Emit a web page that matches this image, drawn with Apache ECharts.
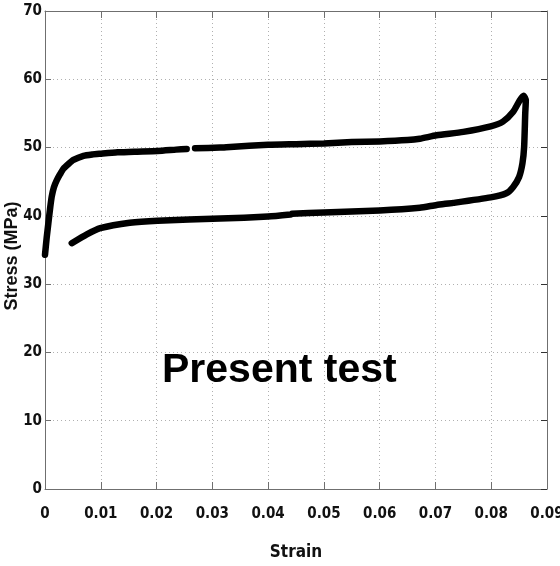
<!DOCTYPE html>
<html>
<head>
<meta charset="utf-8">
<script src="https://cdn.jsdelivr.net/npm/echarts@6/dist/echarts.min.js"></script>
<style>
  html, body { margin: 0; padding: 0; background: #fff; }
  #chart { width: 560px; height: 566px; }
</style>
</head>
<body>
<div id="chart"></div>
<script>
// Cyclic stress-strain record: loading branch, then unloading branch.
// null marks a short break in the recorded trace.
const loadStrain = [0, 0.0003, 0.0006, 0.0009, 0.0012, 0.0016, 0.0021, 0.0027, 0.0033, 0.0042, 0.0051,
  0.0069, 0.0085, 0.0099, 0.013, 0.016, 0.0202, 0.0235, 0.0254, 0.026, 0.0269, 0.0314, 0.0332, 0.04,
  0.045, 0.05, 0.055, 0.06, 0.065, 0.0672, 0.0702, 0.075, 0.0799, 0.0821, 0.0839, 0.0851, 0.0858];
const loadStress = [34.3, 36.8, 38.9, 41.0, 42.8, 44.2, 45.2, 46.1, 46.9, 47.6, 48.2,
  48.8, 49.0, 49.1, 49.3, 49.4, 49.5, 49.7, 49.8, null, 49.9, 50.0, 50.1, 50.4,
  50.5, 50.6, 50.8, 50.9, 51.1, 51.3, 51.8, 52.3, 53.1, 53.8, 55.2, 56.9, 57.6];

const unloadStrain = [0.0862, 0.0861, 0.0859, 0.0856, 0.085, 0.0839, 0.0827, 0.0799, 0.0732, 0.0702,
  0.0672, 0.06, 0.05, 0.0443, 0.0442, 0.044, 0.04, 0.0314, 0.0202, 0.0152, 0.0099, 0.0075, 0.0048];
const unloadStress = [56.9, 55.0, 50.1, 47.7, 45.7, 44.2, 43.3, 42.7, 41.9, 41.6,
  41.2, 40.8, 40.5, 40.3, null, 40.2, 39.9, 39.6, 39.3, 39.0, 38.2, 37.3, 36.0];

const xTicks = { min: 0, max: 0.09, step: 0.01 };
const yTicks = { min: 0, max: 70, step: 10 };
const xTitle = 'Strain';
const yTitle = 'Stress (MPa)';
const caption = 'Present test';

const loop = [];
loadStrain.forEach((s, i) => loop.push([s, loadStress[i]]));
unloadStrain.forEach((s, i) => loop.push([s, unloadStress[i]]));

const axisGray = '#6f6f6f';
const narrow = '"DejaVu Sans Condensed", "Liberation Sans Narrow", "Noto Sans", sans-serif';
const tickFont = { color: '#111', fontFamily: narrow, fontWeight: 'bold', fontSize: 15 };
const gridDots = { show: true, lineStyle: { color: '#b0b0b0', type: [1, 3], width: 1 } };

const chart = echarts.init(document.getElementById('chart'), null, { renderer: 'canvas' });
chart.setOption({
  animation: false,
  backgroundColor: '#fff',
  grid: { left: 45, top: 11, right: 13, bottom: 77, containLabel: false, outerBoundsMode: 'none' },
  xAxis: [{
    type: 'value', min: xTicks.min, max: xTicks.max, interval: xTicks.step,
    position: 'bottom',
    axisLine: { show: true, onZero: false, lineStyle: { color: axisGray, width: 1 } },
    axisTick: { show: true, inside: true, length: 7, lineStyle: { color: axisGray } },
    axisLabel: Object.assign({ margin: 18, formatter: v => v === 0 ? '0' : v.toFixed(2) }, tickFont),
    splitLine: gridDots,
    name: xTitle, nameLocation: 'middle', nameGap: 55,
    nameTextStyle: Object.assign({}, tickFont, { fontSize: 17 })
  }, {
    type: 'value', min: xTicks.min, max: xTicks.max, interval: xTicks.step,
    position: 'top',
    axisLine: { show: true, onZero: false, lineStyle: { color: axisGray, width: 1 } },
    axisTick: { show: true, inside: true, length: 7, lineStyle: { color: axisGray } },
    axisLabel: { show: false },
    splitLine: { show: false }
  }],
  yAxis: [{
    type: 'value', min: yTicks.min, max: yTicks.max, interval: yTicks.step,
    position: 'left',
    axisLine: { show: true, onZero: false, lineStyle: { color: axisGray, width: 1 } },
    axisTick: { show: true, inside: true, length: 6, lineStyle: { color: axisGray } },
    axisLabel: Object.assign({ margin: 3 }, tickFont),
    splitLine: gridDots
  }, {
    type: 'value', min: yTicks.min, max: yTicks.max, interval: yTicks.step,
    position: 'right',
    axisLine: { show: true, onZero: false, lineStyle: { color: axisGray, width: 1 } },
    axisTick: { show: true, inside: true, length: 6, lineStyle: { color: '#333' } },
    axisLabel: { show: false },
    splitLine: { show: false }
  }],
  graphic: [{
    // vertical axis title, drawn rotated beside the tick labels
    type: 'text', x: 12, y: 256, rotation: Math.PI / 2, z: 10,
    style: {
      text: yTitle, fill: '#111', align: 'center', verticalAlign: 'middle',
      font: 'bold 18px "Liberation Sans", Arial, sans-serif'
    }
  }, {
    type: 'text', left: 162, top: 350, z: 10,
    style: { text: caption, fill: '#000', font: 'bold 41px "Liberation Sans", Arial, sans-serif' }
  }],
  series: [{
    type: 'line',
    xAxisIndex: 0, yAxisIndex: 0,
    data: loop,
    showSymbol: false,
    connectNulls: false,
    smooth: 0.2,
    lineStyle: { color: '#000', width: 6.5, cap: 'round', join: 'round' }
  }]
});
</script>
</body>
</html>
